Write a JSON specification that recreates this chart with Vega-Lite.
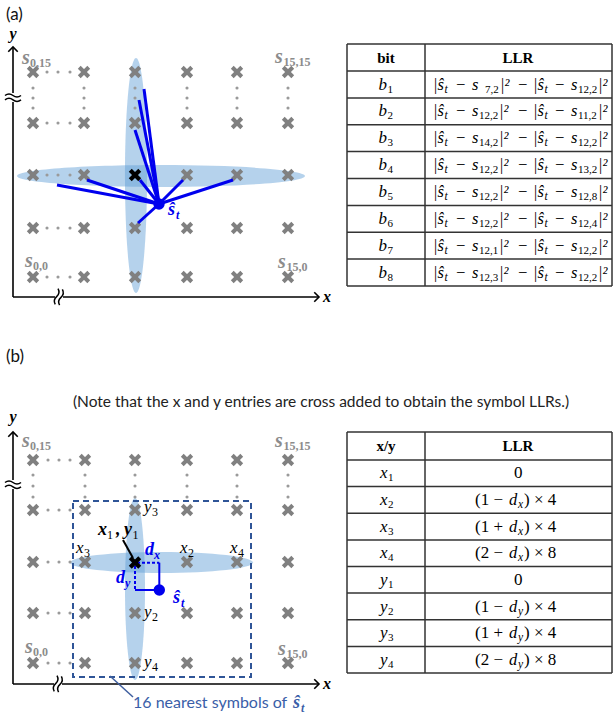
{
  "$schema": "https://vega.github.io/schema/vega-lite/v6.json",
  "width": 613,
  "height": 717,
  "autosize": {"type": "fit", "contains": "padding"},
  "padding": 0,
  "background": "white",
  "config": {"view": {"stroke": null}},
  "encoding": {
    "x": {"field": "x", "type": "quantitative", "scale": {"domain": [0, 613], "nice": false, "zero": false}, "axis": null},
    "y": {"field": "y", "type": "quantitative", "scale": {"domain": [0, 717], "reverse": true, "nice": false, "zero": false}, "axis": null}
  },
  "layer": [
    {
      "data": {"values": [{"x": 161, "y": 176}]},
      "mark": {"type": "point", "filled": true, "color": "#5b9bd5", "opacity": 0.45, "strokeWidth": 0, "size": 82944,
        "shape": "M-1,0C-1,-0.042,-0.552,-0.076,0,-0.076C0.552,-0.076,1,-0.042,1,0C1,0.042,0.552,0.076,0,0.076C-0.552,0.076,-1,0.042,-1,0Z"}
    },
    {
      "data": {"values": [{"x": 136, "y": 175.5}]},
      "mark": {"type": "point", "filled": true, "color": "#5b9bd5", "opacity": 0.45, "strokeWidth": 0, "size": 55225,
        "shape": "M0,-1C0.052,-1,0.094,-0.552,0.094,0C0.094,0.552,0.052,1,0,1C-0.052,1,-0.094,0.552,-0.094,0C-0.094,-0.552,-0.052,-1,0,-1Z"}
    },
    {
      "data": {"values": [{"x": 161.5, "y": 562.5}]},
      "mark": {"type": "point", "filled": true, "color": "#5b9bd5", "opacity": 0.45, "strokeWidth": 0, "size": 33489,
        "shape": "M-1,0C-1,-0.0635,-0.552,-0.115,0,-0.115C0.552,-0.115,1,-0.0635,1,0C1,0.0635,0.552,0.115,0,0.115C-0.552,0.115,-1,0.0635,-1,0Z"}
    },
    {
      "data": {"values": [{"x": 135, "y": 589}]},
      "mark": {"type": "point", "filled": true, "color": "#5b9bd5", "opacity": 0.45, "strokeWidth": 0, "size": 33124,
        "shape": "M0,-1C0.0607,-1,0.11,-0.552,0.11,0C0.11,0.552,0.0607,1,0,1C-0.0607,1,-0.11,0.552,-0.11,0C-0.11,-0.552,-0.0607,-1,0,-1Z"}
    },
    {
      "data": {"values": [
        {"x": 47, "y": 72}, {"x": 58, "y": 72}, {"x": 70, "y": 72},
        {"x": 47, "y": 123}, {"x": 58, "y": 123}, {"x": 70, "y": 123},
        {"x": 47, "y": 175}, {"x": 58, "y": 175}, {"x": 70, "y": 175},
        {"x": 47, "y": 228}, {"x": 58, "y": 228}, {"x": 70, "y": 228},
        {"x": 47, "y": 277}, {"x": 58, "y": 277}, {"x": 70, "y": 277},
        {"x": 33, "y": 88}, {"x": 33, "y": 98}, {"x": 33, "y": 108},
        {"x": 84, "y": 88}, {"x": 84, "y": 98}, {"x": 84, "y": 108},
        {"x": 135, "y": 88}, {"x": 135, "y": 98}, {"x": 135, "y": 108},
        {"x": 187, "y": 88}, {"x": 187, "y": 98}, {"x": 187, "y": 108},
        {"x": 237, "y": 88}, {"x": 237, "y": 98}, {"x": 237, "y": 108},
        {"x": 288, "y": 88}, {"x": 288, "y": 98}, {"x": 288, "y": 108},
        {"x": 48, "y": 460}, {"x": 59, "y": 460}, {"x": 70, "y": 460},
        {"x": 48, "y": 510}, {"x": 59, "y": 510}, {"x": 70, "y": 510},
        {"x": 48, "y": 562}, {"x": 59, "y": 562}, {"x": 70, "y": 562},
        {"x": 48, "y": 613}, {"x": 59, "y": 613}, {"x": 70, "y": 613},
        {"x": 48, "y": 663}, {"x": 59, "y": 663}, {"x": 70, "y": 663},
        {"x": 33, "y": 475}, {"x": 33, "y": 486}, {"x": 33, "y": 497},
        {"x": 85, "y": 475}, {"x": 85, "y": 486}, {"x": 85, "y": 497},
        {"x": 135, "y": 475}, {"x": 135, "y": 486}, {"x": 135, "y": 497},
        {"x": 187, "y": 475}, {"x": 187, "y": 486}, {"x": 187, "y": 497},
        {"x": 237, "y": 475}, {"x": 237, "y": 486}, {"x": 237, "y": 497},
        {"x": 288, "y": 475}, {"x": 288, "y": 486}, {"x": 288, "y": 497}
      ]},
      "mark": {"type": "point", "shape": "circle", "filled": true, "color": "#9a9a9a", "opacity": 1, "size": 10}
    },
    {
      "data": {"values": [
        {"x": 33, "y": 72}, {"x": 84, "y": 72}, {"x": 135, "y": 72}, {"x": 187, "y": 72}, {"x": 237, "y": 72}, {"x": 288, "y": 72},
        {"x": 33, "y": 123}, {"x": 84, "y": 123}, {"x": 135, "y": 123}, {"x": 187, "y": 123}, {"x": 237, "y": 123}, {"x": 288, "y": 123},
        {"x": 33, "y": 175}, {"x": 84, "y": 175}, {"x": 187, "y": 175}, {"x": 237, "y": 175}, {"x": 288, "y": 175},
        {"x": 33, "y": 228}, {"x": 84, "y": 228}, {"x": 135, "y": 228}, {"x": 187, "y": 228}, {"x": 237, "y": 228}, {"x": 288, "y": 228},
        {"x": 33, "y": 277}, {"x": 84, "y": 277}, {"x": 135, "y": 277}, {"x": 187, "y": 277}, {"x": 237, "y": 277}, {"x": 288, "y": 277},
        {"x": 33, "y": 460}, {"x": 85, "y": 460}, {"x": 135, "y": 460}, {"x": 187, "y": 460}, {"x": 237, "y": 460}, {"x": 288, "y": 460},
        {"x": 33, "y": 510}, {"x": 85, "y": 510}, {"x": 135, "y": 510}, {"x": 187, "y": 510}, {"x": 237, "y": 510}, {"x": 288, "y": 510},
        {"x": 33, "y": 562}, {"x": 85, "y": 562}, {"x": 187, "y": 562}, {"x": 237, "y": 562}, {"x": 288, "y": 562},
        {"x": 33, "y": 613}, {"x": 85, "y": 613}, {"x": 135, "y": 613}, {"x": 187, "y": 613}, {"x": 237, "y": 613}, {"x": 288, "y": 613},
        {"x": 33, "y": 663}, {"x": 85, "y": 663}, {"x": 135, "y": 663}, {"x": 187, "y": 663}, {"x": 237, "y": 663}, {"x": 288, "y": 663}
      ]},
      "mark": {"type": "point", "shape": "M-1,-1L1,1M-1,1L1,-1", "filled": false, "color": "#808080", "opacity": 1, "strokeWidth": 4, "size": 90}
    },
    {
      "data": {"values": [{"x": 73, "y": 501, "x2": 251, "y2": 677}]},
      "mark": {"type": "rect", "fillOpacity": 0, "stroke": "#2f5597", "strokeWidth": 2, "strokeDash": [6, 4]},
      "encoding": {"x2": {"field": "x2"}, "y2": {"field": "y2"}}
    },
    {
      "data": {"values": [
        {"x": 13, "y": 48, "x2": 13, "y2": 93}, {"x": 13, "y": 102, "x2": 13, "y2": 297},
        {"x": 13, "y": 297, "x2": 55, "y2": 297}, {"x": 63, "y": 297, "x2": 318, "y2": 297},
        {"x": 13, "y": 433, "x2": 13, "y2": 480}, {"x": 13, "y": 489, "x2": 13, "y2": 684},
        {"x": 13, "y": 684, "x2": 54, "y2": 684}, {"x": 62, "y": 684, "x2": 318, "y2": 684}
      ]},
      "mark": {"type": "rule", "color": "#000000", "strokeWidth": 1.6},
      "encoding": {"x2": {"field": "x2"}, "y2": {"field": "y2"}}
    },
    {
      "data": {"values": [{"x": 13, "y": 47}, {"x": 13, "y": 432}]},
      "mark": {"type": "point", "shape": "M-1,1L0,0L1,1", "filled": false, "color": "#000000", "opacity": 1, "strokeWidth": 1.6, "size": 90}
    },
    {
      "data": {"values": [{"x": 319, "y": 297}, {"x": 319, "y": 684}]},
      "mark": {"type": "point", "shape": "M-1,-1L0,0L-1,1", "filled": false, "color": "#000000", "opacity": 1, "strokeWidth": 1.6, "size": 90}
    },
    {
      "data": {"values": [{"x": 13, "y": 97.5}, {"x": 13, "y": 484.5}]},
      "mark": {"type": "point", "shape": "M-1,-0.25Q-0.5,-0.65,0,-0.25Q0.5,0.15,1,-0.25M-1,0.3Q-0.5,-0.1,0,0.3Q0.5,0.7,1,0.3", "filled": false, "color": "#000000", "opacity": 1, "strokeWidth": 1.5, "size": 256}
    },
    {
      "data": {"values": [{"x": 59, "y": 297}, {"x": 58, "y": 684}]},
      "mark": {"type": "point", "angle": 100, "shape": "M-1,-0.25Q-0.5,-0.65,0,-0.25Q0.5,0.15,1,-0.25M-1,0.3Q-0.5,-0.1,0,0.3Q0.5,0.7,1,0.3", "filled": false, "color": "#000000", "opacity": 1, "strokeWidth": 1.5, "size": 256}
    },
    {
      "data": {"values": [
        {"x": 159, "y": 204, "x2": 144, "y2": 89},
        {"x": 159, "y": 204, "x2": 139, "y2": 100},
        {"x": 159, "y": 204, "x2": 135, "y2": 130},
        {"x": 159, "y": 204, "x2": 140, "y2": 180},
        {"x": 159, "y": 204, "x2": 57, "y2": 185},
        {"x": 159, "y": 204, "x2": 87, "y2": 180},
        {"x": 159, "y": 204, "x2": 183, "y2": 180},
        {"x": 159, "y": 204, "x2": 233, "y2": 180},
        {"x": 159, "y": 204, "x2": 138, "y2": 223}
      ]},
      "mark": {"type": "rule", "color": "#0000ee", "strokeWidth": 3},
      "encoding": {"x2": {"field": "x2"}, "y2": {"field": "y2"}}
    },
    {
      "data": {"values": [
        {"x": 137, "y": 562.7, "x2": 159.3, "y2": 562.7},
        {"x": 135, "y": 566, "x2": 135, "y2": 590}
      ]},
      "mark": {"type": "rule", "color": "#0000ee", "strokeWidth": 2, "strokeDash": [3, 2]},
      "encoding": {"x2": {"field": "x2"}, "y2": {"field": "y2"}}
    },
    {
      "data": {"values": [
        {"x": 159.3, "y": 562.7, "x2": 159.3, "y2": 590},
        {"x": 135, "y": 590, "x2": 159.3, "y2": 590}
      ]},
      "mark": {"type": "rule", "color": "#0000ee", "strokeWidth": 2},
      "encoding": {"x2": {"field": "x2"}, "y2": {"field": "y2"}}
    },
    {
      "data": {"values": [{"x": 123, "y": 540, "x2": 133, "y2": 558}]},
      "mark": {"type": "rule", "color": "#000000", "strokeWidth": 2},
      "encoding": {"x2": {"field": "x2"}, "y2": {"field": "y2"}}
    },
    {
      "data": {"values": [{"x": 110, "y": 676, "x2": 133, "y2": 697}]},
      "mark": {"type": "rule", "color": "#3f5f9f", "strokeWidth": 1.5},
      "encoding": {"x2": {"field": "x2"}, "y2": {"field": "y2"}}
    },
    {
      "data": {"values": [{"x": 159, "y": 204}, {"x": 159.3, "y": 590}]},
      "mark": {"type": "point", "shape": "circle", "filled": true, "color": "#0000ee", "opacity": 1, "size": 130}
    },
    {
      "data": {"values": [{"x": 135, "y": 175}, {"x": 135, "y": 562.5}]},
      "mark": {"type": "point", "shape": "M-1,-1L1,1M-1,1L1,-1", "filled": false, "color": "#000000", "opacity": 1, "strokeWidth": 4.2, "size": 90}
    },
    {
      "data": {"values": [{"x": 6, "y": 20, "t": "(a)"}, {"x": 6, "y": 362, "t": "(b)"}]},
      "mark": {"type": "text", "align": "left", "baseline": "alphabetic", "font": "Lato", "fontSize": 17, "color": "#111111"},
      "encoding": {"text": {"field": "t"}}
    },
    {
      "data": {"values": [{"x": 321, "y": 407, "t": "(Note that the x and y entries are cross added to obtain the symbol LLRs.)"}]},
      "mark": {"type": "text", "align": "center", "baseline": "alphabetic", "font": "Lato", "fontSize": 15.5, "color": "#222222"},
      "encoding": {"text": {"field": "t"}}
    },
    {
      "data": {"values": [{"x": 133, "y": 708, "t": "16 nearest symbols of"}]},
      "mark": {"type": "text", "align": "left", "baseline": "alphabetic", "font": "Lato", "fontSize": 16, "color": "#3a5ea8"},
      "encoding": {"text": {"field": "t"}}
    },
    {
      "data": {"values": [{"x": 293, "y": 708, "t": "ŝ"}]},
      "mark": {"type": "text", "align": "left", "baseline": "alphabetic", "font": "Liberation Serif", "fontStyle": "italic", "fontWeight": "bold", "fontSize": 18, "color": "#3a5ea8"},
      "encoding": {"text": {"field": "t"}}
    },
    {
      "data": {"values": [{"x": 301, "y": 712, "t": "t"}]},
      "mark": {"type": "text", "align": "left", "baseline": "alphabetic", "font": "Liberation Serif", "fontStyle": "italic", "fontWeight": "bold", "fontSize": 12, "color": "#3a5ea8"},
      "encoding": {"text": {"field": "t"}}
    },
    {
      "data": {"values": [{"x": 13, "y": 39, "t": "y"}, {"x": 327, "y": 302, "t": "x"}, {"x": 13, "y": 422, "t": "y"}, {"x": 327, "y": 689, "t": "x"}]},
      "mark": {"type": "text", "align": "center", "baseline": "alphabetic", "font": "Liberation Serif", "fontStyle": "italic", "fontWeight": "bold", "fontSize": 16, "color": "#000000"},
      "encoding": {"text": {"field": "t"}}
    },
    {
      "data": {"values": [
        {"x": 22, "y": 64, "t": "s"}, {"x": 275, "y": 63, "t": "s"}, {"x": 25, "y": 267, "t": "s"}, {"x": 278, "y": 268, "t": "s"},
        {"x": 22, "y": 447, "t": "s"}, {"x": 275, "y": 447, "t": "s"}, {"x": 25, "y": 653, "t": "s"}, {"x": 278, "y": 655, "t": "s"}
      ]},
      "mark": {"type": "text", "align": "left", "baseline": "alphabetic", "font": "Liberation Serif", "fontStyle": "italic", "fontWeight": "bold", "fontSize": 20, "color": "#8c8c8c"},
      "encoding": {"text": {"field": "t"}}
    },
    {
      "data": {"values": [
        {"x": 30, "y": 67, "t": "0,15"}, {"x": 283.5, "y": 66, "t": "15,15"}, {"x": 33, "y": 270, "t": "0,0"}, {"x": 286.5, "y": 271, "t": "15,0"},
        {"x": 30, "y": 450, "t": "0,15"}, {"x": 283.5, "y": 450, "t": "15,15"}, {"x": 33, "y": 656, "t": "0,0"}, {"x": 286.5, "y": 658, "t": "15,0"}
      ]},
      "mark": {"type": "text", "align": "left", "baseline": "alphabetic", "font": "Liberation Serif", "fontWeight": "bold", "fontSize": 12, "color": "#8c8c8c"},
      "encoding": {"text": {"field": "t"}}
    },
    {
      "data": {"values": [{"x": 168, "y": 215, "t": "ŝ"}, {"x": 173, "y": 603, "t": "ŝ"}, {"x": 145, "y": 555, "t": "d"}, {"x": 116, "y": 583, "t": "d"}]},
      "mark": {"type": "text", "align": "left", "baseline": "alphabetic", "font": "Liberation Serif", "fontStyle": "italic", "fontWeight": "bold", "fontSize": 18, "color": "#0000ee"},
      "encoding": {"text": {"field": "t"}}
    },
    {
      "data": {"values": [{"x": 176, "y": 219, "t": "t"}, {"x": 181, "y": 607, "t": "t"}, {"x": 154, "y": 559, "t": "x"}, {"x": 125, "y": 587, "t": "y"}]},
      "mark": {"type": "text", "align": "left", "baseline": "alphabetic", "font": "Liberation Serif", "fontStyle": "italic", "fontWeight": "bold", "fontSize": 12, "color": "#0000ee"},
      "encoding": {"text": {"field": "t"}}
    },
    {
      "data": {"values": [{"x": 98, "y": 535, "t": "x"}, {"x": 116, "y": 535, "t": ","}, {"x": 124, "y": 535, "t": "y"}]},
      "mark": {"type": "text", "align": "left", "baseline": "alphabetic", "font": "Liberation Serif", "fontStyle": "italic", "fontWeight": "bold", "fontSize": 18, "color": "#000000"},
      "encoding": {"text": {"field": "t"}}
    },
    {
      "data": {"values": [
        {"x": 76, "y": 553, "t": "x"}, {"x": 180, "y": 553, "t": "x"}, {"x": 230, "y": 553, "t": "x"},
        {"x": 144, "y": 512, "t": "y"}, {"x": 144, "y": 617, "t": "y"}, {"x": 144, "y": 667, "t": "y"}
      ]},
      "mark": {"type": "text", "align": "left", "baseline": "alphabetic", "font": "Liberation Serif", "fontStyle": "italic", "fontSize": 17, "color": "#000000"},
      "encoding": {"text": {"field": "t"}}
    },
    {
      "data": {"values": [
        {"x": 107, "y": 539, "t": "1"}, {"x": 132.5, "y": 539, "t": "1"},
        {"x": 84, "y": 557, "t": "3"}, {"x": 188, "y": 557, "t": "2"}, {"x": 238, "y": 557, "t": "4"},
        {"x": 152, "y": 516, "t": "3"}, {"x": 152, "y": 621, "t": "2"}, {"x": 152, "y": 671, "t": "4"}
      ]},
      "mark": {"type": "text", "align": "left", "baseline": "alphabetic", "font": "Liberation Serif", "fontSize": 12, "color": "#000000"},
      "encoding": {"text": {"field": "t"}}
    },
    {
      "data": {"values": [
        {"x": 347, "y": 44, "x2": 612, "y2": 44}, {"x": 347, "y": 71, "x2": 612, "y2": 71},
        {"x": 347, "y": 97.9, "x2": 612, "y2": 97.9}, {"x": 347, "y": 124.8, "x2": 612, "y2": 124.8},
        {"x": 347, "y": 151.6, "x2": 612, "y2": 151.6}, {"x": 347, "y": 178.5, "x2": 612, "y2": 178.5},
        {"x": 347, "y": 205.4, "x2": 612, "y2": 205.4}, {"x": 347, "y": 232.3, "x2": 612, "y2": 232.3},
        {"x": 347, "y": 259.1, "x2": 612, "y2": 259.1}, {"x": 347, "y": 286, "x2": 612, "y2": 286},
        {"x": 347, "y": 44, "x2": 347, "y2": 286}, {"x": 425, "y": 44, "x2": 425, "y2": 286}, {"x": 612, "y": 44, "x2": 612, "y2": 286},
        {"x": 347, "y": 432, "x2": 612, "y2": 432}, {"x": 347, "y": 460, "x2": 612, "y2": 460},
        {"x": 347, "y": 486.6, "x2": 612, "y2": 486.6}, {"x": 347, "y": 513.3, "x2": 612, "y2": 513.3},
        {"x": 347, "y": 539.9, "x2": 612, "y2": 539.9}, {"x": 347, "y": 566.5, "x2": 612, "y2": 566.5},
        {"x": 347, "y": 593.1, "x2": 612, "y2": 593.1}, {"x": 347, "y": 619.8, "x2": 612, "y2": 619.8},
        {"x": 347, "y": 646.4, "x2": 612, "y2": 646.4}, {"x": 347, "y": 673, "x2": 612, "y2": 673},
        {"x": 347, "y": 432, "x2": 347, "y2": 673}, {"x": 425, "y": 432, "x2": 425, "y2": 673}, {"x": 612, "y": 432, "x2": 612, "y2": 673}
      ]},
      "mark": {"type": "rule", "color": "#333333", "strokeWidth": 1.5},
      "encoding": {"x2": {"field": "x2"}, "y2": {"field": "y2"}}
    },
    {
      "data": {"values": [{"x": 386, "y": 57.5, "t": "bit"}, {"x": 518, "y": 57.5, "t": "LLR"}, {"x": 386, "y": 446, "t": "x/y"}, {"x": 518, "y": 446, "t": "LLR"}]},
      "mark": {"type": "text", "align": "center", "baseline": "middle", "font": "Liberation Serif", "fontWeight": "bold", "fontSize": 15, "color": "#000000"},
      "encoding": {"text": {"field": "t"}}
    },
    {
      "data": {"values": [
        {"x": 378.5, "y": 84.5, "t": "b"}, {"x": 378.5, "y": 111.4, "t": "b"}, {"x": 378.5, "y": 138.2, "t": "b"}, {"x": 378.5, "y": 165.1, "t": "b"},
        {"x": 378.5, "y": 192, "t": "b"}, {"x": 378.5, "y": 218.9, "t": "b"}, {"x": 378.5, "y": 245.7, "t": "b"}, {"x": 378.5, "y": 272.6, "t": "b"},
        {"x": 380, "y": 473.3, "t": "x"}, {"x": 380, "y": 500, "t": "x"}, {"x": 380, "y": 526.6, "t": "x"}, {"x": 380, "y": 553.2, "t": "x"},
        {"x": 380, "y": 579.8, "t": "y"}, {"x": 380, "y": 606.5, "t": "y"}, {"x": 380, "y": 633.1, "t": "y"}, {"x": 380, "y": 659.7, "t": "y"}
      ]},
      "mark": {"type": "text", "align": "left", "baseline": "middle", "font": "Liberation Serif", "fontStyle": "italic", "fontSize": 17, "color": "#000000"},
      "encoding": {"text": {"field": "t"}}
    },
    {
      "data": {"values": [
        {"x": 387.5, "y": 89.5, "t": "1"}, {"x": 387.5, "y": 116.4, "t": "2"}, {"x": 387.5, "y": 143.2, "t": "3"}, {"x": 387.5, "y": 170.1, "t": "4"},
        {"x": 387.5, "y": 197, "t": "5"}, {"x": 387.5, "y": 223.9, "t": "6"}, {"x": 387.5, "y": 250.7, "t": "7"}, {"x": 387.5, "y": 277.6, "t": "8"},
        {"x": 388, "y": 478.3, "t": "1"}, {"x": 388, "y": 505, "t": "2"}, {"x": 388, "y": 531.6, "t": "3"}, {"x": 388, "y": 558.2, "t": "4"},
        {"x": 388, "y": 584.8, "t": "1"}, {"x": 388, "y": 611.5, "t": "2"}, {"x": 388, "y": 638.1, "t": "3"}, {"x": 388, "y": 664.7, "t": "4"},
        {"x": 485, "y": 89.5, "t": "7,2"}, {"x": 578, "y": 89.5, "t": "12,2"},
        {"x": 479, "y": 116.4, "t": "12,2"}, {"x": 578, "y": 116.4, "t": "11,2"},
        {"x": 479, "y": 143.2, "t": "14,2"}, {"x": 578, "y": 143.2, "t": "12,2"},
        {"x": 479, "y": 170.1, "t": "12,2"}, {"x": 578, "y": 170.1, "t": "13,2"},
        {"x": 479, "y": 197, "t": "12,2"}, {"x": 578, "y": 197, "t": "12,8"},
        {"x": 479, "y": 223.9, "t": "12,2"}, {"x": 578, "y": 223.9, "t": "12,4"},
        {"x": 479, "y": 250.7, "t": "12,1"}, {"x": 578, "y": 250.7, "t": "12,2"},
        {"x": 479, "y": 277.6, "t": "12,3"}, {"x": 578, "y": 277.6, "t": "12,2"}
      ]},
      "mark": {"type": "text", "align": "left", "baseline": "middle", "font": "Liberation Serif", "fontSize": 11, "color": "#000000"},
      "encoding": {"text": {"field": "t"}}
    },
    {
      "data": {"values": [
        {"x": 444.5, "y": 89.5, "t": "t"}, {"x": 544.5, "y": 89.5, "t": "t"},
        {"x": 444.5, "y": 116.4, "t": "t"}, {"x": 544.5, "y": 116.4, "t": "t"},
        {"x": 444.5, "y": 143.2, "t": "t"}, {"x": 544.5, "y": 143.2, "t": "t"},
        {"x": 444.5, "y": 170.1, "t": "t"}, {"x": 544.5, "y": 170.1, "t": "t"},
        {"x": 444.5, "y": 197, "t": "t"}, {"x": 544.5, "y": 197, "t": "t"},
        {"x": 444.5, "y": 223.9, "t": "t"}, {"x": 544.5, "y": 223.9, "t": "t"},
        {"x": 444.5, "y": 250.7, "t": "t"}, {"x": 544.5, "y": 250.7, "t": "t"},
        {"x": 444.5, "y": 277.6, "t": "t"}, {"x": 544.5, "y": 277.6, "t": "t"},
        {"x": 518, "y": 505, "t": "x"}, {"x": 518, "y": 531.6, "t": "x"}, {"x": 518, "y": 558.2, "t": "x"},
        {"x": 518, "y": 611.5, "t": "y"}, {"x": 518, "y": 638.1, "t": "y"}, {"x": 518, "y": 664.7, "t": "y"}
      ]},
      "mark": {"type": "text", "align": "left", "baseline": "middle", "font": "Liberation Serif", "fontStyle": "italic", "fontSize": 11.5, "color": "#000000"},
      "encoding": {"text": {"field": "t"}}
    },
    {
      "data": {"values": [
        {"x": 433, "y": 84.5, "t": "|ŝ"}, {"x": 455, "y": 84.5, "t": "−"}, {"x": 472, "y": 84.5, "t": "s"}, {"x": 500, "y": 84.5, "t": "|²"}, {"x": 517, "y": 84.5, "t": "−"}, {"x": 533, "y": 84.5, "t": "|ŝ"}, {"x": 554, "y": 84.5, "t": "−"}, {"x": 571, "y": 84.5, "t": "s"}, {"x": 598, "y": 84.5, "t": "|²"},
        {"x": 433, "y": 111.4, "t": "|ŝ"}, {"x": 455, "y": 111.4, "t": "−"}, {"x": 472, "y": 111.4, "t": "s"}, {"x": 499, "y": 111.4, "t": "|²"}, {"x": 517, "y": 111.4, "t": "−"}, {"x": 533, "y": 111.4, "t": "|ŝ"}, {"x": 554, "y": 111.4, "t": "−"}, {"x": 571, "y": 111.4, "t": "s"}, {"x": 598, "y": 111.4, "t": "|²"},
        {"x": 433, "y": 138.2, "t": "|ŝ"}, {"x": 455, "y": 138.2, "t": "−"}, {"x": 472, "y": 138.2, "t": "s"}, {"x": 499, "y": 138.2, "t": "|²"}, {"x": 517, "y": 138.2, "t": "−"}, {"x": 533, "y": 138.2, "t": "|ŝ"}, {"x": 554, "y": 138.2, "t": "−"}, {"x": 571, "y": 138.2, "t": "s"}, {"x": 598, "y": 138.2, "t": "|²"},
        {"x": 433, "y": 165.1, "t": "|ŝ"}, {"x": 455, "y": 165.1, "t": "−"}, {"x": 472, "y": 165.1, "t": "s"}, {"x": 499, "y": 165.1, "t": "|²"}, {"x": 517, "y": 165.1, "t": "−"}, {"x": 533, "y": 165.1, "t": "|ŝ"}, {"x": 554, "y": 165.1, "t": "−"}, {"x": 571, "y": 165.1, "t": "s"}, {"x": 598, "y": 165.1, "t": "|²"},
        {"x": 433, "y": 192, "t": "|ŝ"}, {"x": 455, "y": 192, "t": "−"}, {"x": 472, "y": 192, "t": "s"}, {"x": 499, "y": 192, "t": "|²"}, {"x": 517, "y": 192, "t": "−"}, {"x": 533, "y": 192, "t": "|ŝ"}, {"x": 554, "y": 192, "t": "−"}, {"x": 571, "y": 192, "t": "s"}, {"x": 598, "y": 192, "t": "|²"},
        {"x": 433, "y": 218.9, "t": "|ŝ"}, {"x": 455, "y": 218.9, "t": "−"}, {"x": 472, "y": 218.9, "t": "s"}, {"x": 499, "y": 218.9, "t": "|²"}, {"x": 517, "y": 218.9, "t": "−"}, {"x": 533, "y": 218.9, "t": "|ŝ"}, {"x": 554, "y": 218.9, "t": "−"}, {"x": 571, "y": 218.9, "t": "s"}, {"x": 598, "y": 218.9, "t": "|²"},
        {"x": 433, "y": 245.7, "t": "|ŝ"}, {"x": 455, "y": 245.7, "t": "−"}, {"x": 472, "y": 245.7, "t": "s"}, {"x": 499, "y": 245.7, "t": "|²"}, {"x": 517, "y": 245.7, "t": "−"}, {"x": 533, "y": 245.7, "t": "|ŝ"}, {"x": 554, "y": 245.7, "t": "−"}, {"x": 571, "y": 245.7, "t": "s"}, {"x": 598, "y": 245.7, "t": "|²"},
        {"x": 433, "y": 272.6, "t": "|ŝ"}, {"x": 455, "y": 272.6, "t": "−"}, {"x": 472, "y": 272.6, "t": "s"}, {"x": 499, "y": 272.6, "t": "|²"}, {"x": 517, "y": 272.6, "t": "−"}, {"x": 533, "y": 272.6, "t": "|ŝ"}, {"x": 554, "y": 272.6, "t": "−"}, {"x": 571, "y": 272.6, "t": "s"}, {"x": 598, "y": 272.6, "t": "|²"},
        {"x": 509, "y": 500, "t": "d"}, {"x": 509, "y": 526.6, "t": "d"}, {"x": 509, "y": 553.2, "t": "d"},
        {"x": 509, "y": 606.5, "t": "d"}, {"x": 509, "y": 633.1, "t": "d"}, {"x": 509, "y": 659.7, "t": "d"}
      ]},
      "mark": {"type": "text", "align": "left", "baseline": "middle", "font": "Liberation Serif", "fontStyle": "italic", "fontSize": 16.5, "color": "#000000"},
      "encoding": {"text": {"field": "t"}}
    },
    {
      "data": {"values": [
        {"x": 514, "y": 473.3, "t": "0"}, {"x": 514, "y": 579.8, "t": "0"},
        {"x": 475, "y": 500, "t": "(1 − "}, {"x": 524, "y": 500, "t": ") × 4"},
        {"x": 475, "y": 526.6, "t": "(1 + "}, {"x": 524, "y": 526.6, "t": ") × 4"},
        {"x": 475, "y": 553.2, "t": "(2 − "}, {"x": 524, "y": 553.2, "t": ") × 8"},
        {"x": 475, "y": 606.5, "t": "(1 − "}, {"x": 524, "y": 606.5, "t": ") × 4"},
        {"x": 475, "y": 633.1, "t": "(1 + "}, {"x": 524, "y": 633.1, "t": ") × 4"},
        {"x": 475, "y": 659.7, "t": "(2 − "}, {"x": 524, "y": 659.7, "t": ") × 8"}
      ]},
      "mark": {"type": "text", "align": "left", "baseline": "middle", "font": "Liberation Serif", "fontSize": 17, "color": "#000000"},
      "encoding": {"text": {"field": "t"}}
    }
  ]
}
